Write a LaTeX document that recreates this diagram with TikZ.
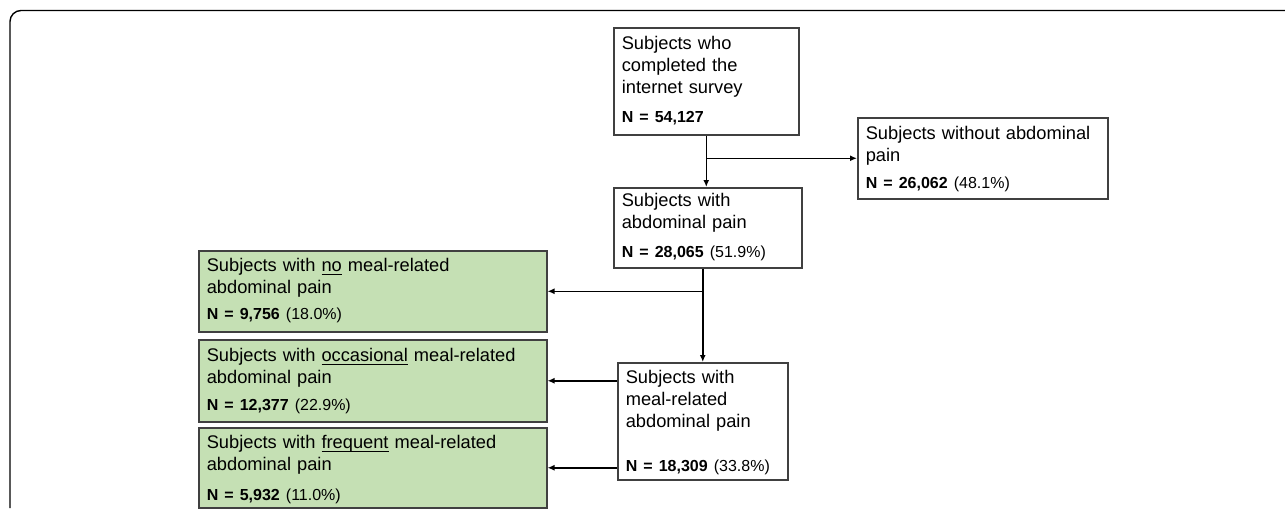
\documentclass[tikz,border=0pt]{standalone}
\usepackage{fontspec}
\setmainfont{Liberation Sans}
\usetikzlibrary{arrows.meta}
\definecolor{boxgreen}{HTML}{C5E0B4}
\definecolor{boxline}{HTML}{404040}
\newcommand{\ulword}[1]{\underline{\smash{#1}}}
\newcommand{\nline}[2]{{\fontsize{9.1}{11}\selectfont\textbf{N = #1}#2}}
\tikzset{
  box/.style={draw=boxline, line width=0.9pt, anchor=north west, align=left,
    inner xsep=0.16cm, inner ysep=0pt, font=\fontsize{10.4}{12.5}\selectfont},
  greenbox/.style={box, fill=boxgreen},
  flow/.style={line width=0.85pt, -{Latex[length=1.4mm,width=1.2mm]}}
}
\begin{document}
\begin{tikzpicture}[x=0.02cm,y=-0.02cm]
\useasboundingbox (0,0) rectangle (1285,508);
% frame
\draw[line width=0.8pt, rounded corners=0.22cm] (10,508) -- (10,10.5) -- (1285,10.5);

% white boxes
\node[box, text width=3.38cm, text height=0.44cm, text depth=1.70cm] (survey) at (613,27)
  {Subjects who\\completed the\\internet survey\\[0.14cm]\nline{54,127}{}};
\node[box, text width=4.68cm, text height=0.44cm, text depth=1.18cm] (without) at (857,117)
  {Subjects without abdominal\\pain\\[0.10cm]\nline{26,062}{ (48.1\%)}};
\node[box, text width=3.44cm, text height=0.38cm, text depth=1.22cm] (withpain) at (613,187)
  {Subjects with\\abdominal pain\\[0.14cm]\nline{28,065}{ (51.9\%)}};
\node[box, text width=3.08cm, text height=0.42cm, text depth=1.92cm] (meal) at (617,362)
  {Subjects with\\meal-related\\abdominal pain\\[0.44cm]\nline{18,309}{ (33.8\%)}};

% green boxes
\node[greenbox, text width=6.64cm, text height=0.42cm, text depth=1.20cm] (nomeal) at (198,250)
  {Subjects with \ulword{no} meal-related\\abdominal pain\\[0.08cm]\nline{9,756}{ (18.0\%)}};
\node[greenbox, text width=6.64cm, text height=0.44cm, text depth=1.20cm] (occasional) at (198,339)
  {Subjects with \ulword{occasional} meal-related\\abdominal pain\\[0.10cm]\nline{12,377}{ (22.9\%)}};
\node[greenbox, text width=6.64cm, text height=0.42cm, text depth=1.18cm] (frequent) at (198,427)
  {Subjects with \ulword{frequent} meal-related\\abdominal pain\\[0.16cm]\nline{5,932}{ (11.0\%)}};

% arrows
\draw[flow] (survey.south) -- (survey.south |- withpain.north);
\draw[flow] (survey.south |- without.west) -- (without.west);
\draw[flow] (meal.north |- withpain.south) -- (meal.north);
\draw[flow] (meal.north |- nomeal.east) -- (nomeal.east);
\foreach \t in {occasional,frequent}
  \draw[flow] (meal.west |- \t.east) -- (\t.east);
\end{tikzpicture}
\end{document}
